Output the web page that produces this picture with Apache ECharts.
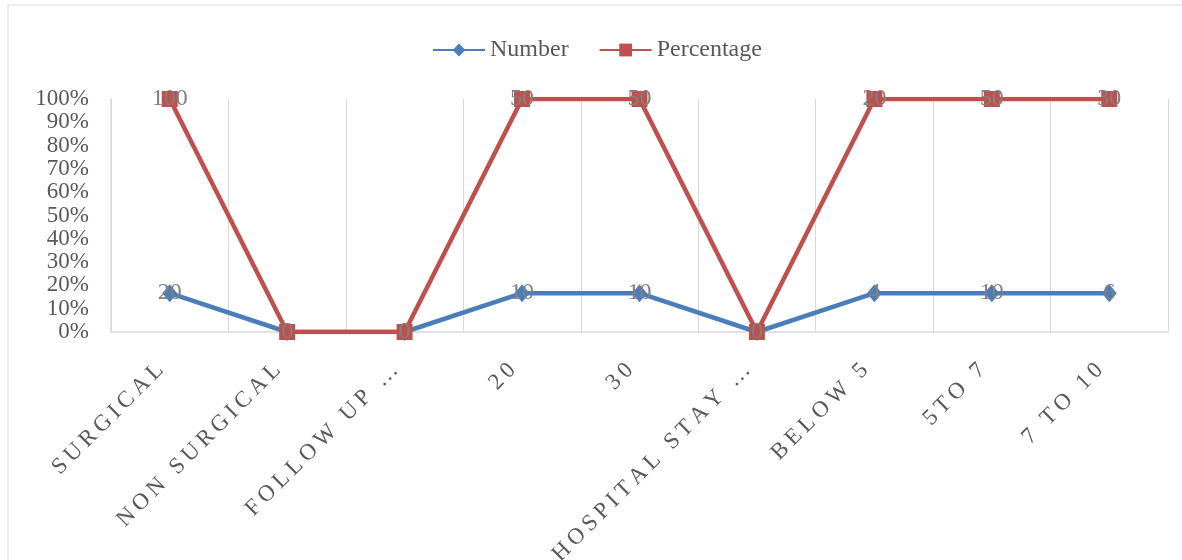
<!DOCTYPE html>
<html>
<head>
<meta charset="utf-8">
<script src="https://cdn.jsdelivr.net/npm/echarts@6/dist/echarts.min.js"></script>
<style>
  html, body { margin: 0; padding: 0; background: #fff; }
  #chart { width: 1182px; height: 560px; }
</style>
</head>
<body>
<div id="chart"></div>
<script>
// Categories along the x axis
const categories = ['SURGICAL', 'NON SURGICAL', 'FOLLOW UP …', '20', '30', 'HOSPITAL STAY …', 'BELOW 5', '5TO 7', '7 TO 10'];
// Raw series values (shown as data labels)
const numberValues = [20, 0, 0, 10, 10, 0, 4, 10, 6];
const percentageValues = [100, 0, 0, 50, 50, 0, 20, 50, 30];
// Y axis tick labels (100% stacked scale)
const yTicks = ['0%', '10%', '20%', '30%', '40%', '50%', '60%', '70%', '80%', '90%', '100%'];

// 100% stacked line: each category is normalised by its total
const totals = numberValues.map((v, i) => v + percentageValues[i]);
const numberShare = numberValues.map((v, i) => totals[i] > 0 ? v / totals[i] : 0);
const percentageShare = percentageValues.map((v, i) => totals[i] > 0 ? (v + numberValues[i]) / totals[i] : 0);

const FONT = '"Liberation Serif", "Times New Roman", serif';
// widen the category labels a little, letter by letter
const spaced = s => s.split('').join('\u2009');

const chart = echarts.init(document.getElementById('chart'), null, { renderer: 'canvas' });

chart.setOption({
  animation: false,
  backgroundColor: '#ffffff',
  textStyle: { fontFamily: FONT },
  graphic: [
    { type: 'line', shape: { x1: 8, y1: 5, x2: 1182, y2: 5 }, style: { stroke: '#d9d9d9', lineWidth: 1 } },
    { type: 'line', shape: { x1: 8, y1: 5, x2: 8, y2: 560 }, style: { stroke: '#d9d9d9', lineWidth: 1 } }
  ],
  legend: {
    top: 33,
    left: 427,
    itemWidth: 52,
    itemHeight: 16,
    itemGap: 30,
    textStyle: { fontFamily: FONT, fontSize: 24, color: '#595959' },
    data: ['Number', 'Percentage']
  },
  grid: { left: 111, right: 14, top: 99, bottom: 228, containLabel: false, outerBoundsMode: 'none' },
  xAxis: {
    type: 'category',
    data: categories,
    boundaryGap: true,
    axisLine: { show: true, lineStyle: { color: '#d9d9d9', width: 1.5 } },
    axisTick: { show: false },
    splitLine: { show: true, lineStyle: { color: '#d9d9d9', width: 1 } },
    axisLabel: {
      interval: 0,
      rotate: 45,
      margin: 25,
      padding: [0, 14, 0, 0],
      hideOverlap: false,
      fontFamily: FONT,
      fontSize: 23,
      color: '#595959',
      formatter: v => spaced(v)
    }
  },
  yAxis: {
    type: 'value',
    min: 0,
    max: 1,
    interval: 0.1,
    axisLine: { show: true, lineStyle: { color: '#d9d9d9', width: 1.5 } },
    axisTick: { show: false },
    splitLine: { show: false },
    axisLabel: {
      margin: 22,
      hideOverlap: false,
      fontFamily: FONT,
      fontSize: 23,
      color: '#595959',
      formatter: v => yTicks[Math.round(v * 10)]
    }
  },
  series: [
    {
      name: 'Number',
      type: 'line',
      data: numberShare,
      color: '#4a7ebb',
      lineStyle: { width: 4.5, color: '#4a7ebb' },
      symbol: 'diamond',
      symbolSize: [15, 18],
      showAllSymbol: true,
      itemStyle: { color: '#4a7ebb' },
      label: {
        show: true,
        position: 'inside',
        fontFamily: FONT,
        fontSize: 24,
        color: '#808080',
        formatter: p => String(numberValues[p.dataIndex])
      },
      z: 3
    },
    {
      name: 'Percentage',
      type: 'line',
      data: percentageShare,
      color: '#c0504d',
      lineStyle: { width: 4.5, color: '#c0504d' },
      symbol: 'rect',
      symbolSize: 16,
      showAllSymbol: true,
      itemStyle: { color: '#c0504d' },
      label: {
        show: true,
        position: 'inside',
        fontFamily: FONT,
        fontSize: 24,
        color: '#808080',
        formatter: p => String(percentageValues[p.dataIndex])
      },
      z: 4
    }
  ]
});
</script>
</body>
</html>
